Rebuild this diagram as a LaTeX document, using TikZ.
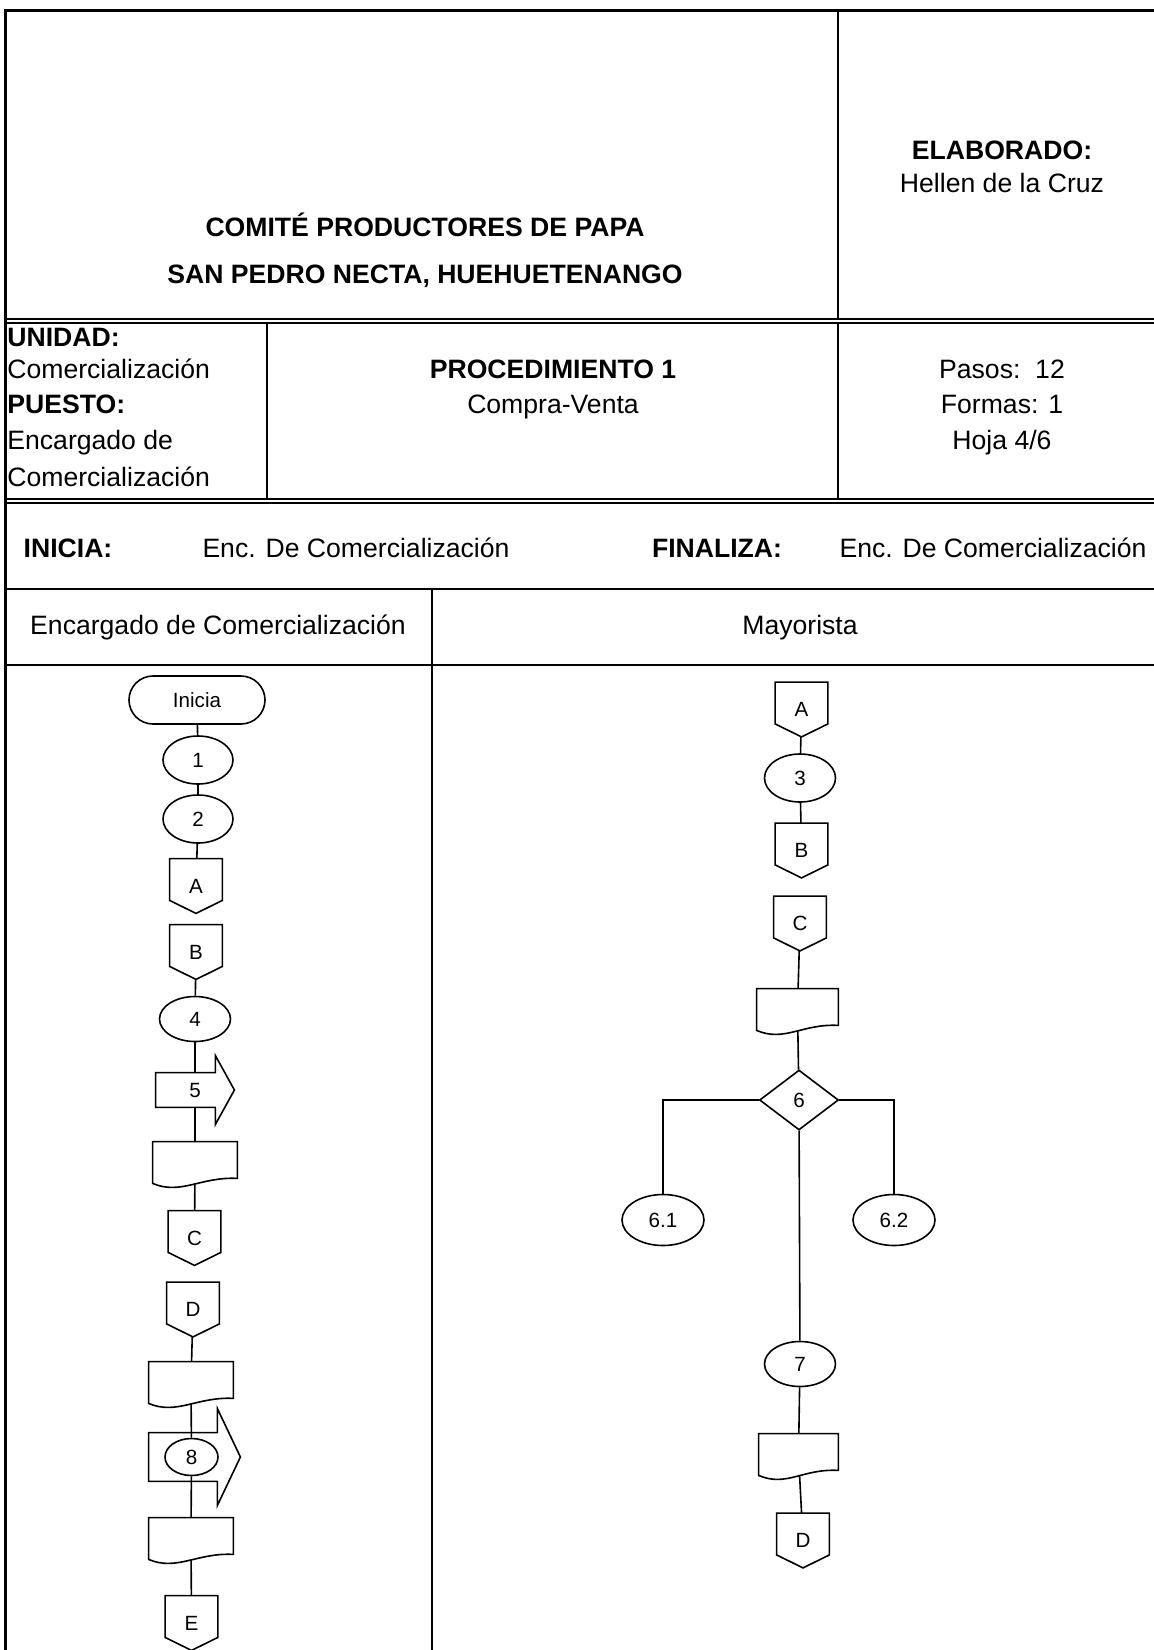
\documentclass[tikz,border=0pt]{standalone}
\usepackage{fontspec}
\setmainfont{Liberation Sans}
\usetikzlibrary{shapes.geometric, shapes.misc}
\newcommand\hdrfont{\fontsize{13.3}{16}\selectfont}
\newcommand\flowfont{\fontsize{10.3}{12}\selectfont}
\tikzset{
  hdr/.style={font=\hdrfont, inner sep=0pt, anchor=base},
  hdrb/.style={font=\hdrfont\bfseries, inner sep=0pt, anchor=base},
  framerule/.style={line width=1pt},
  dbl/.style={line width=1pt, double, double distance=1pt},
  flow/.style={line width=0.8pt},
  shp/.style={draw, line width=0.8pt, font=\flowfont, inner sep=0pt},
  term/.style={shp, rounded rectangle, minimum width=68pt, minimum height=24pt},
  proc/.style={shp, ellipse, minimum width=35pt, minimum height=24pt},
  decision/.style={shp, diamond, minimum width=39.5pt, minimum height=30pt},
  offpage/.style={font=\flowfont, inner sep=0pt, minimum width=26pt, minimum height=27pt,
    append after command={\pgfextra{\draw[flow] (\tikzlastnode.north west) -- (\tikzlastnode.north east)
      -- ([yshift=6.5pt]\tikzlastnode.south east) -- (\tikzlastnode.south)
      -- ([yshift=6.5pt]\tikzlastnode.south west) -- cycle;}}},
  docshape/.style={inner sep=0pt, minimum width=#1, minimum height=20.5pt,
    append after command={\pgfextra{\draw[flow] (\tikzlastnode.north west) -- (\tikzlastnode.north east)
      -- ([yshift=2.5pt]\tikzlastnode.south east)
      .. controls ([xshift=-18pt,yshift=3.5pt]\tikzlastnode.south east) and ([xshift=14pt,yshift=-6pt]\tikzlastnode.south west) .. (\tikzlastnode.south west)
      -- cycle;}}},
  docshape/.default=42pt,
  blockarrow/.style 2 args={font=\flowfont, inner sep=0pt,
    append after command={\pgfextra{\draw[flow] (\tikzlastnode.north west) -- ([xshift=-#1]\tikzlastnode.north east)
      -- ([xshift=-#1,yshift=#2]\tikzlastnode.north east) -- (\tikzlastnode.east)
      -- ([xshift=-#1,yshift=-#2]\tikzlastnode.south east) -- ([xshift=-#1]\tikzlastnode.south east)
      -- (\tikzlastnode.south west) -- cycle;}}}
}
\begin{document}
\begin{tikzpicture}[x=0.5pt, y=-0.5pt]
  \useasboundingbox (0,0) rectangle (1154,1650);

  \draw[framerule] (838,10.5) -- (838,501.2);
  \draw[framerule] (267,320.5) -- (267,501.2);
  \draw[framerule] (432,589) -- (432,1650);
  \draw[framerule] (5.7,589) -- (1154,589);
  \draw[framerule] (5.7,665) -- (1154,665);
  \draw[dbl] (5.7,320.5) -- (1154,320.5);
  \draw[dbl] (5.7,501.2) -- (1154,501.2);
  \draw[line width=1.6pt] (5.7,1650) -- (5.7,10.5) -- (1154,10.5);

  \node[hdrb] (title1) at (425,236) {COMITÉ PRODUCTORES DE PAPA};
  \node[hdrb] (title2) at (425,283) {SAN PEDRO NECTA, HUEHUETENANGO};
  \node[hdrb] (elab) at (1002,159) {ELABORADO:};
  \node[hdr] (autor) at (1002,192) {Hellen de la Cruz};

  \node[hdrb, anchor=base west] (unidad) at (7,346) {UNIDAD:};
  \node[hdr, anchor=base west] (unidadv) at (7,378) {Comercialización};
  \node[hdrb, anchor=base west] (puesto) at (7,413) {PUESTO:};
  \node[hdr, anchor=base west] (puestov1) at (7,449) {Encargado de};
  \node[hdr, anchor=base west] (puestov2) at (7,486) {Comercialización};
  \node[hdrb] (proc) at (553,378) {PROCEDIMIENTO 1};
  \node[hdr] (procv) at (553,413) {Compra-Venta};
  \node[hdr] (pasos) at (1002,378) {Pasos:\ \ 12};
  \node[hdr] (formas) at (1002,413) {Formas: 1};
  \node[hdr] (hoja) at (1002,449) {Hoja 4/6};

  \node[hdrb] (inicia) at (68,557) {INICIA:};
  \node[hdr] (iniciav) at (356,557) {Enc. De Comercialización};
  \node[hdrb] (finaliza) at (717,557) {FINALIZA:};
  \node[hdr] (finalizav) at (993,557) {Enc. De Comercialización};

  \node[hdr] (lane1) at (218,634) {Encargado de Comercialización};
  \node[hdr] (lane2) at (800,634) {Mayorista};

  \node[term] (ini) at (197,700) {Inicia};
  \node[proc] (e1) at (198,760) {1};
  \node[proc] (e2) at (198,819) {2};
  \node[offpage] (ca1) at (196,886) {A};
  \node[offpage] (cb1) at (196,952) {B};
  \node[proc, minimum width=35.5pt, minimum height=22.5pt] (e4) at (195,1019) {4};
  \node[blockarrow={9.5pt}{8.5pt}, minimum width=39pt, minimum height=17pt] (a5) at (195,1090) {5};
  \node[docshape] (doc1) at (195,1162.5) {};
  \node[offpage] (cc1) at (194.5,1238) {C};
  \node[offpage] (cd1) at (193,1309.5) {D};
  \node[docshape] (doc2) at (191,1382.5) {};
  \node[blockarrow={11.5pt}{12pt}, minimum width=45.5pt, minimum height=24pt] (a8) at (194.5,1457) {};
  \node[proc, minimum width=26.5pt, minimum height=18.5pt] (e8) at (191.5,1457) {8};
  \node[docshape] (doc3) at (191,1538.5) {};
  \node[offpage] (ce1) at (191.5,1623) {E};

  \node[offpage] (ca2) at (801.5,709.5) {A};
  \node[proc, minimum width=35.5pt] (e3) at (800,778) {3};
  \node[offpage] (cb2) at (801.5,850.5) {B};
  \node[offpage] (cc2) at (800,923.5) {C};
  \node[docshape=40.5pt] (doc4) at (797.5,1009.5) {};
  \node[decision] (d6) at (799,1100) {6};
  \node[proc, minimum width=41pt, minimum height=25.5pt] (e61) at (663,1220) {6.1};
  \node[proc, minimum width=41pt, minimum height=25.5pt] (e62) at (894,1220) {6.2};
  \node[proc, minimum width=35.5pt, minimum height=22.5pt] (e7) at (800,1364) {7};
  \node[docshape=39.5pt] (doc5) at (798.5,1454.5) {};
  \node[offpage] (cd2) at (803,1540.5) {D};

  \draw[flow] (ini) -- (e1);
  \draw[flow] (e1) -- (e2);
  \draw[flow] (e2) -- (ca1);
  \draw[flow] (cb1) -- (e4);
  \draw[flow] (e4) -- (a5);
  \draw[flow] (a5) -- (doc1);
  \draw[flow] (doc1) -- (cc1);
  \draw[flow] (cd1) -- (doc2);
  \draw[flow] (doc2) -- (e8);
  \draw[flow] (e8) -- (doc3);
  \draw[flow] (doc3) -- (ce1);

  \draw[flow] (ca2) -- (e3);
  \draw[flow] (e3) -- (cb2);
  \draw[flow] (cc2) -- (doc4);
  \draw[flow] (doc4) -- (d6);
  \draw[flow] (d6.west) -| (e61.north);
  \draw[flow] (d6.east) -| (e62.north);
  \draw[flow] (d6) -- (e7);
  \draw[flow] (e7) -- (doc5);
  \draw[flow] (doc5) -- (cd2);
\end{tikzpicture}
\end{document}
